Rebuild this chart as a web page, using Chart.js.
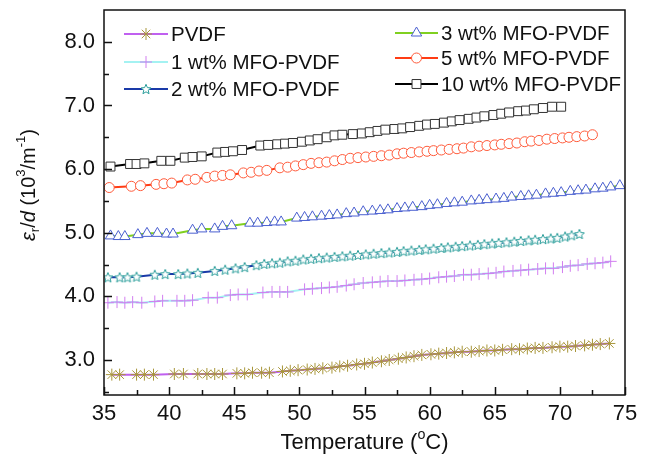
<!DOCTYPE html>
<html lang="en">
<head>
  <meta charset="UTF-8">
  <title>MFO-PVDF - dielectric vs temperature</title>
  <script src="https://cdn.jsdelivr.net/npm/chart.js"></script>
  <style>
    body {
      margin: 0;
      background: #ffffff;
    }
    .chart-container {
      width: 650px;
      height: 463px;
    }
  </style>
</head>
<body>
  <div class="chart-container">
    <canvas id="tempChart"></canvas>
  </div>

  <script>
    // measured series : temperature (°C) and eps_r/d (10^3 / m^-1)
    const tPVDF = [35.6, 36.2, 37.5, 38.1, 38.8, 40.4, 41.1, 42.2, 42.9, 43.5, 44.1, 45.2, 45.8, 46.4, 47.1, 47.7, 48.7, 49.3, 49.9, 50.6, 51.2, 51.8, 52.5, 53.1, 53.7, 54.4, 55.0, 55.6, 56.3, 56.9, 57.6, 58.2, 58.8, 59.4, 60.1, 60.7, 61.3, 61.9, 62.5, 63.2, 63.8, 64.4, 65.0, 65.6, 66.3, 66.9, 67.5, 68.1, 68.7, 69.4, 70.0, 70.6, 71.2, 71.9, 72.5, 73.1, 73.8];
    const vPVDF = [2.77, 2.77, 2.77, 2.77, 2.77, 2.78, 2.78, 2.78, 2.78, 2.78, 2.78, 2.79, 2.79, 2.80, 2.80, 2.80, 2.82, 2.83, 2.84, 2.85, 2.86, 2.87, 2.88, 2.90, 2.91, 2.93, 2.94, 2.96, 2.98, 3.00, 3.02, 3.04, 3.06, 3.08, 3.09, 3.10, 3.11, 3.12, 3.13, 3.13, 3.14, 3.15, 3.15, 3.16, 3.17, 3.17, 3.18, 3.19, 3.19, 3.20, 3.21, 3.21, 3.22, 3.23, 3.24, 3.25, 3.26];

    const t1wt = [35.3, 36.0, 36.6, 37.2, 37.9, 38.9, 39.5, 40.6, 41.2, 41.8, 43.0, 43.7, 44.7, 45.3, 46.0, 47.2, 47.9, 48.5, 49.1, 50.4, 51.0, 51.7, 52.3, 52.9, 53.6, 54.2, 54.9, 55.6, 56.2, 56.8, 57.5, 58.1, 58.8, 59.4, 60.0, 60.7, 61.3, 61.9, 62.6, 63.2, 63.8, 64.5, 65.1, 65.7, 66.4, 67.0, 67.6, 68.3, 68.9, 69.5, 70.2, 70.8, 71.4, 72.1, 72.7, 73.3, 73.9];
    const v1wt = [3.90, 3.91, 3.90, 3.91, 3.90, 3.92, 3.93, 3.93, 3.93, 3.94, 3.98, 3.98, 4.02, 4.03, 4.03, 4.06, 4.07, 4.07, 4.07, 4.11, 4.12, 4.13, 4.14, 4.15, 4.17, 4.19, 4.21, 4.22, 4.23, 4.24, 4.24, 4.25, 4.26, 4.27, 4.28, 4.30, 4.31, 4.32, 4.34, 4.34, 4.35, 4.36, 4.37, 4.39, 4.40, 4.41, 4.42, 4.43, 4.44, 4.44, 4.46, 4.48, 4.49, 4.51, 4.52, 4.53, 4.55];

    const t2wt = [35.3, 36.2, 36.8, 37.5, 38.9, 39.7, 40.7, 41.4, 42.2, 43.5, 44.3, 45.1, 45.8, 46.7, 47.3, 47.9, 48.5, 49.1, 49.7, 50.3, 50.9, 51.5, 52.1, 52.7, 53.3, 53.9, 54.5, 55.1, 55.7, 56.3, 56.9, 57.5, 58.0, 58.6, 59.2, 59.7, 60.3, 60.9, 61.4, 62.0, 62.5, 63.1, 63.7, 64.2, 64.8, 65.3, 65.9, 66.5, 67.0, 67.6, 68.1, 68.7, 69.3, 69.8, 70.4, 70.9, 71.5];
    const v2wt = [4.30, 4.30, 4.30, 4.31, 4.34, 4.35, 4.35, 4.36, 4.37, 4.40, 4.42, 4.44, 4.46, 4.49, 4.51, 4.52, 4.53, 4.55, 4.56, 4.58, 4.59, 4.60, 4.61, 4.62, 4.63, 4.64, 4.65, 4.66, 4.67, 4.68, 4.69, 4.70, 4.71, 4.72, 4.73, 4.74, 4.75, 4.76, 4.77, 4.78, 4.79, 4.80, 4.81, 4.82, 4.83, 4.84, 4.85, 4.86, 4.87, 4.88, 4.89, 4.90, 4.91, 4.92, 4.94, 4.96, 4.98];

    const t3wt = [35.5, 36.1, 36.6, 37.6, 38.3, 39.1, 39.8, 40.3, 41.8, 42.5, 43.5, 44.1, 44.8, 46.2, 46.8, 47.5, 48.1, 48.6, 49.8, 50.4, 51.0, 51.7, 52.3, 52.9, 53.6, 54.2, 54.9, 55.6, 56.2, 56.8, 57.5, 58.1, 58.7, 59.4, 60.0, 60.6, 61.3, 61.9, 62.5, 63.2, 63.8, 64.4, 65.1, 65.7, 66.3, 67.0, 67.6, 68.2, 68.9, 69.5, 70.1, 70.8, 71.4, 72.0, 72.7, 73.3, 73.9, 74.6];
    const v3wt = [4.95, 4.94, 4.94, 4.97, 4.99, 4.99, 4.98, 4.98, 5.04, 5.06, 5.06, 5.10, 5.11, 5.15, 5.15, 5.16, 5.17, 5.17, 5.23, 5.24, 5.25, 5.26, 5.27, 5.28, 5.30, 5.31, 5.33, 5.34, 5.35, 5.36, 5.38, 5.39, 5.40, 5.41, 5.43, 5.44, 5.46, 5.47, 5.48, 5.50, 5.51, 5.52, 5.53, 5.54, 5.56, 5.57, 5.58, 5.59, 5.61, 5.62, 5.63, 5.65, 5.66, 5.67, 5.69, 5.70, 5.72, 5.74];

    const t5wt = [35.4, 37.1, 37.8, 39.0, 39.6, 40.2, 41.4, 42.0, 42.9, 43.5, 44.1, 44.7, 45.7, 46.3, 46.9, 47.5, 48.5, 49.1, 49.7, 50.3, 50.9, 51.5, 52.1, 52.7, 53.3, 53.9, 54.5, 55.1, 55.7, 56.3, 56.9, 57.5, 58.0, 58.6, 59.2, 59.8, 60.3, 60.9, 61.5, 62.1, 62.6, 63.2, 63.8, 64.4, 65.0, 65.5, 66.1, 66.7, 67.3, 67.8, 68.4, 69.0, 69.6, 70.2, 70.7, 71.3, 71.9, 72.5];
    const v5wt = [5.71, 5.73, 5.74, 5.76, 5.77, 5.78, 5.83, 5.84, 5.87, 5.89, 5.90, 5.91, 5.94, 5.95, 5.97, 5.98, 6.02, 6.03, 6.05, 6.07, 6.09, 6.10, 6.11, 6.13, 6.15, 6.17, 6.18, 6.19, 6.20, 6.21, 6.22, 6.24, 6.25, 6.26, 6.27, 6.28, 6.29, 6.30, 6.31, 6.32, 6.33, 6.35, 6.36, 6.37, 6.38, 6.39, 6.40, 6.41, 6.43, 6.44, 6.45, 6.47, 6.48, 6.49, 6.50, 6.51, 6.52, 6.54];

    const t10wt = [35.5, 37.0, 37.5, 38.1, 39.4, 40.1, 41.2, 41.8, 42.5, 43.7, 44.3, 44.9, 45.6, 47.0, 47.6, 48.3, 48.9, 49.5, 50.2, 50.8, 51.4, 52.1, 52.7, 53.3, 54.1, 54.8, 55.4, 56.0, 56.6, 57.3, 57.9, 58.5, 59.2, 59.8, 60.4, 61.1, 61.7, 62.3, 63.0, 63.6, 64.2, 64.9, 65.5, 66.1, 66.8, 67.4, 68.0, 68.7, 69.4, 70.1];
    const v10wt = [6.04, 6.08, 6.08, 6.09, 6.13, 6.13, 6.18, 6.19, 6.20, 6.26, 6.27, 6.28, 6.30, 6.37, 6.38, 6.39, 6.40, 6.41, 6.43, 6.45, 6.47, 6.50, 6.53, 6.54, 6.55, 6.56, 6.58, 6.60, 6.62, 6.63, 6.64, 6.66, 6.68, 6.70, 6.71, 6.73, 6.75, 6.77, 6.79, 6.81, 6.83, 6.85, 6.87, 6.89, 6.91, 6.92, 6.94, 6.96, 6.98, 6.98];

    const seriesNames = ['PVDF', '1 wt% MFO-PVDF', '2 wt% MFO-PVDF', '3 wt% MFO-PVDF', '5 wt% MFO-PVDF', '10 wt% MFO-PVDF'];
    const xTicks = [35, 37.5, 40, 42.5, 45, 47.5, 50, 52.5, 55, 57.5, 60, 62.5, 65, 67.5, 70, 72.5, 75];
    const yTicks = [2.5, 3, 3.5, 4, 4.5, 5, 5.5, 6, 6.5, 7, 7.5, 8];

    const FONT = "'Liberation Sans', Arial, sans-serif";

    function toPoints(t, v) {
      return t.map((x, i) => ({ x: x, y: v[i] }));
    }

    // hollow five-point star marker
    function makeStar(color, size) {
      const c = document.createElement('canvas');
      c.width = size;
      c.height = size;
      const g = c.getContext('2d');
      const cx = size / 2, cy = size / 2 + 0.5;
      const ro = size / 2 - 0.8, ri = ro * 0.45;
      g.beginPath();
      for (let k = 0; k < 10; k++) {
        const r = k % 2 ? ri : ro;
        const a = -Math.PI / 2 + k * Math.PI / 5;
        g.lineTo(cx + r * Math.cos(a), cy + r * Math.sin(a));
      }
      g.closePath();
      g.fillStyle = '#ffffff';
      g.fill();
      g.strokeStyle = color;
      g.lineWidth = 1;
      g.stroke();
      return c;
    }

    const starMarker = makeStar('#2a9d9a', 12);

    function serie(i, t, v, lineColor, markColor, style, radius) {
      return {
        label: seriesNames[i],
        data: toPoints(t, v),
        borderColor: lineColor,
        borderWidth: 2,
        pointStyle: style,
        pointRadius: radius,
        pointBorderColor: markColor,
        pointBackgroundColor: '#ffffff',
        pointBorderWidth: 1,
        tension: 0
      };
    }

    const datasets = [
      serie(0, tPVDF, vPVDF, '#c060f0', '#a8963a', 'star', 6),
      serie(1, t1wt, v1wt, '#a4f2f2', '#d27ef0', 'cross', 6),
      serie(2, t2wt, v2wt, '#1a3aa8', '#2a9d9a', starMarker, 6),
      serie(3, t3wt, v3wt, '#80d020', '#4a5fd0', 'triangle', 6),
      serie(4, t5wt, v5wt, '#ff3c14', '#ff5a3a', 'circle', 5),
      serie(5, t10wt, v10wt, '#000000', '#333333', 'rect', 6.3)
    ];

    // draws mixed text (italic, sub/superscript) centered on x
    function richText(ctx, parts, size, cx, cy) {
      let total = 0;
      parts.forEach(p => {
        const s = p.pos ? size * 0.65 : size;
        ctx.font = (p.it ? 'italic ' : '') + s + 'px ' + FONT;
        p.w = ctx.measureText(p.t).width;
        p.s = s;
        total += p.w;
      });
      let x = cx - total / 2;
      ctx.textBaseline = 'middle';
      ctx.textAlign = 'left';
      parts.forEach(p => {
        ctx.font = (p.it ? 'italic ' : '') + p.s + 'px ' + FONT;
        let dy = 0;
        if (p.pos === 'sup') dy = -size * 0.38;
        if (p.pos === 'sub') dy = size * 0.3;
        ctx.fillText(p.t, x, cy + dy);
        x += p.w;
      });
    }

    const framePlugin = {
      id: 'frame',
      afterDraw(chart) {
        const ctx = chart.ctx;
        const a = chart.chartArea;
        const xs = chart.scales.x, ys = chart.scales.y;
        ctx.save();
        ctx.strokeStyle = '#111111';
        ctx.lineWidth = 1.5;
        ctx.strokeRect(a.left, a.top, a.right - a.left, a.bottom - a.top);

        // inward ticks on the left and bottom axes
        ctx.beginPath();
        xTicks.forEach(v => {
          const px = Math.round(xs.getPixelForValue(v)) + 0.5;
          const len = v % 5 === 0 ? 8 : 5;
          ctx.moveTo(px, a.bottom);
          ctx.lineTo(px, a.bottom - len);
        });
        yTicks.forEach(v => {
          const py = Math.round(ys.getPixelForValue(v)) + 0.5;
          const len = v % 1 === 0 ? 8 : 5;
          ctx.moveTo(a.left, py);
          ctx.lineTo(a.left + len, py);
        });
        ctx.stroke();

        // axis titles
        ctx.fillStyle = '#111111';
        richText(ctx, [
          { t: 'Temperature (' },
          { t: 'o', pos: 'sup' },
          { t: 'C)' }
        ], 22, (a.left + a.right) / 2, 443);

        ctx.translate(29, 185);
        ctx.rotate(-Math.PI / 2);
        richText(ctx, [
          { t: 'ε', it: true },
          { t: 'r', pos: 'sub' },
          { t: '/' },
          { t: 'd', it: true },
          { t: ' (10' },
          { t: '3', pos: 'sup' },
          { t: '/m' },
          { t: '-1', pos: 'sup' },
          { t: ')' }
        ], 20, 0, 0);
        ctx.restore();
      }
    };

    // two column legend inside the plot
    const legendPlugin = {
      id: 'innerLegend',
      afterDraw(chart) {
        const ctx = chart.ctx;
        const cols = [
          { x1: 124, x2: 168, text: 171, rows: [34, 62, 89] },
          { x1: 395, x2: 438, text: 441, rows: [33, 58, 84] }
        ];
        ctx.save();
        chart.data.datasets.forEach((ds, i) => {
          const col = cols[i < 3 ? 0 : 1];
          const y = col.rows[i % 3];
          ctx.strokeStyle = ds.borderColor;
          ctx.lineWidth = 2;
          ctx.beginPath();
          ctx.moveTo(col.x1, y);
          ctx.lineTo(col.x2, y);
          ctx.stroke();

          const mx = (col.x1 + col.x2) / 2;
          ctx.strokeStyle = ds.pointBorderColor;
          ctx.fillStyle = ds.pointBackgroundColor;
          ctx.lineWidth = ds.pointBorderWidth;
          Chart.helpers.drawPoint(ctx, {
            pointStyle: ds.pointStyle,
            radius: ds.pointRadius,
            borderWidth: ds.pointBorderWidth,
            rotation: 0
          }, mx, y);

          ctx.fillStyle = '#111111';
          ctx.font = '20.5px ' + FONT;
          ctx.textAlign = 'left';
          ctx.textBaseline = 'middle';
          ctx.fillText(ds.label, col.text, y + 1);
        });
        ctx.restore();
      }
    };

    new Chart(document.getElementById('tempChart'), {
      type: 'line',
      data: { datasets: datasets },
      options: {
        responsive: true,
        maintainAspectRatio: false,
        animation: false,
        layout: { padding: { top: 10, right: 25, left: 0, bottom: 0 } },
        plugins: {
          legend: { display: false },
          tooltip: { enabled: false }
        },
        scales: {
          x: {
            type: 'linear',
            min: 35,
            max: 75,
            afterBuildTicks: scale => { scale.ticks = xTicks.map(v => ({ value: v })); },
            afterFit: scale => {
              scale.height = 68;
              scale.paddingLeft = 0;
              scale.paddingRight = 0;
            },
            grid: { display: false, drawTicks: false },
            border: { display: false },
            ticks: {
              autoSkip: false,
              maxRotation: 0,
              padding: 6,
              color: '#111111',
              font: { family: FONT, size: 22 },
              callback: v => (v % 5 === 0 ? String(v) : '')
            }
          },
          y: {
            type: 'linear',
            min: 2.45,
            max: 8.5,
            afterBuildTicks: scale => { scale.ticks = yTicks.map(v => ({ value: v })); },
            afterFit: scale => {
              scale.width = 104;
              scale.paddingTop = 0;
              scale.paddingBottom = 0;
            },
            grid: { display: false, drawTicks: false },
            border: { display: false },
            ticks: {
              autoSkip: false,
              padding: 9,
              color: '#111111',
              font: { family: FONT, size: 22 },
              callback: v => (v % 1 === 0 ? v.toFixed(1) : '')
            }
          }
        }
      },
      plugins: [framePlugin, legendPlugin]
    });
  </script>
</body>
</html>
